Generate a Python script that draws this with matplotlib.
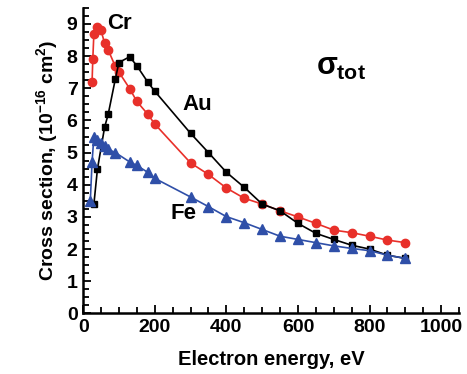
import numpy as np
import matplotlib
matplotlib.use('Agg')
from matplotlib import pyplot as plt
from matplotlib.ticker import MultipleLocator

# Energies (eV) and cross sections (1e-16 cm^2)
cr_x = [25, 27, 30, 40, 50, 60, 70, 90, 100, 130, 150, 180, 200, 300, 350, 400,
        450, 500, 550, 600, 650, 700, 750, 800, 850, 900]
cr_y = [7.20, 7.90, 8.69, 8.92, 8.80, 8.40, 8.19, 7.68, 7.50, 6.99, 6.59, 6.20, 5.89,
        4.68, 4.32, 3.90, 3.58, 3.40, 3.19, 3.00, 2.80, 2.59, 2.51, 2.40, 2.28, 2.20]

au_x = [30, 40, 60, 70, 90, 100, 130, 150, 180, 200, 300, 350, 400,
        450, 500, 550, 600, 650, 700, 750, 800, 850, 900]
au_y = [3.39, 4.49, 5.79, 6.19, 7.29, 7.80, 7.98, 7.70, 7.20, 6.91, 5.60, 5.00, 4.39,
        3.92, 3.40, 3.19, 2.80, 2.49, 2.30, 2.12, 2.00, 1.81, 1.71]

fe_x = [20, 25, 30, 40, 50, 60, 70, 90, 130, 150, 180, 200, 300, 350, 400,
        450, 500, 550, 600, 650, 700, 750, 800, 850, 900]
fe_y = [3.49, 4.71, 5.49, 5.38, 5.30, 5.22, 5.10, 5.00, 4.71, 4.60, 4.39, 4.20, 3.62,
        3.32, 3.01, 2.82, 2.61, 2.40, 2.30, 2.20, 2.10, 2.02, 1.95, 1.81, 1.71]

plt.rcParams['font.family'] = ['Liberation Sans', 'DejaVu Sans']
plt.rcParams['font.weight'] = 'bold'
plt.rcParams['mathtext.fontset'] = 'custom'
plt.rcParams['mathtext.rm'] = 'Liberation Sans:bold'
plt.rcParams['mathtext.it'] = 'Liberation Sans:bold'
plt.rcParams['mathtext.bf'] = 'Liberation Sans:bold'

fig = plt.figure(figsize=(4.67, 3.74), dpi=100)
ax = fig.add_axes([0.178, 0.162, 0.805, 0.817])

red = '#e8302a'
blue = '#2f4fa8'
ax.plot(cr_x, cr_y, color=red, lw=1.2, marker='o', ms=6, mec=red, mfc=red)
ax.plot(au_x, au_y, color='black', lw=1.2, marker='s', ms=5)
ax.plot(fe_x, fe_y, color=blue, lw=1.2, marker='^', ms=6.5, mec=blue, mfc=blue)

ax.set_xlim(0, 1050)
ax.set_ylim(0, 9.5)
ax.xaxis.set_major_locator(MultipleLocator(200))
ax.xaxis.set_minor_locator(MultipleLocator(50))
ax.yaxis.set_major_locator(MultipleLocator(1))
ax.yaxis.set_minor_locator(MultipleLocator(0.25))
ax.tick_params(which='both', direction='in', width=1.3, labelsize=14, pad=4)
ax.tick_params(which='major', length=6)
ax.tick_params(which='minor', length=4)
for s in ['top', 'right']:
    ax.spines[s].set_visible(False)
for s in ['left', 'bottom']:
    ax.spines[s].set_linewidth(1.8)

ax.set_xlabel('Electron energy, eV', fontsize=14.5, fontweight='bold', labelpad=10)
ax.set_ylabel('Cross section, (10$^{-16}$ cm$^2$)', fontsize=14, fontweight='bold', labelpad=5)

ax.text(66, 9.0, 'Cr', fontsize=16, fontweight='bold', va='center', ha='left')
ax.text(277, 6.5, 'Au', fontsize=16, fontweight='bold', va='center', ha='left')
ax.text(244, 3.1, 'Fe', fontsize=16, fontweight='bold', va='center', ha='left')
ax.text(650, 7.65, r'$\sigma_{tot}$', fontsize=22, va='center', ha='left')

fig.savefig('out.png', dpi=100)
